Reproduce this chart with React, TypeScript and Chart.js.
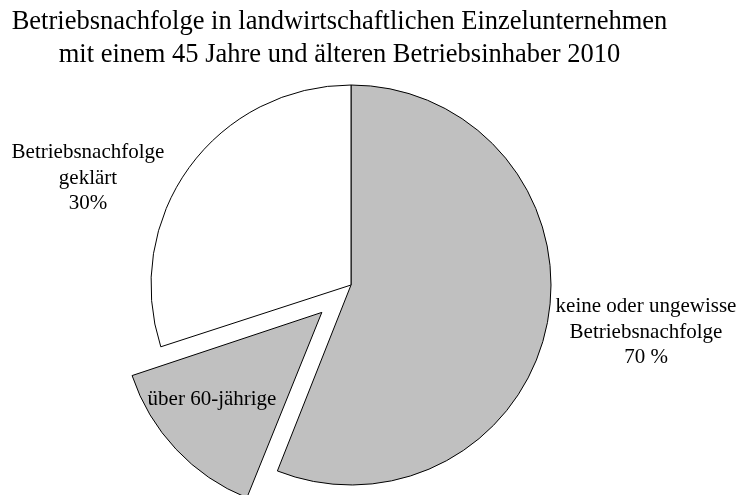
import { useEffect, useRef } from "react";
import { Chart, registerables } from "chart.js";

Chart.register(...registerables);

// ---- data ----
const categories = [
  "keine oder ungewisse Betriebsnachfolge",
  "über 60-jährige",
  "Betriebsnachfolge geklärt",
];
const shares = [56, 14, 30];
const sliceColors = ["#c0c0c0", "#c0c0c0", "#ffffff"];
const sliceOffsets = [0, 160, 0];
const titleLines = [
  "Betriebsnachfolge in landwirtschaftlichen Einzelunternehmen",
  "mit einem 45 Jahre und älteren Betriebsinhaber 2010",
];
const labelLines = [
  ["keine oder ungewisse", "Betriebsnachfolge", "70 %"],
  ["über 60-jährige"],
  ["Betriebsnachfolge", "geklärt", "30%"],
];

const FONT = "'Liberation Serif', 'Times New Roman', serif";

// keep exploded slice the same radius as the others
const radiusFix = {
  id: "radiusFix",
  afterDatasetUpdate(chart: any, args: any) {
    const meta = chart.getDatasetMeta(args.index);
    meta.data.forEach((arc: any) => {
      const off = ((arc.options && arc.options.offset) || 0) / 4;
      const fix = 1 - Math.sin(Math.min(Math.PI, arc.circumference || 0));
      arc.outerRadius = arc.outerRadius - off * fix;
    });
  },
};

const textPlugin = {
  id: "textPlugin",
  afterDraw(chart: any, _args: any, opts: any) {
    const ctx = chart.ctx;
    const meta = chart.getDatasetMeta(0);
    const arc0 = meta.data[0];
    if (!arc0) return;
    const cx = arc0.x;
    const cy = arc0.y;
    ctx.save();
    ctx.fillStyle = "#000";
    ctx.textAlign = "center";
    ctx.textBaseline = "alphabetic";
    // title
    ctx.font = `26.5px ${FONT}`;
    titleLines.forEach((t, i) => {
      ctx.fillText(t, opts.titleX, opts.titleY + i * opts.titleLH);
    });
    // slice labels
    ctx.font = `21px ${FONT}`;
    labelLines.forEach((lines, i) => {
      const p = opts.pos[i];
      lines.forEach((l, j) => {
        ctx.fillText(l, cx + p.dx, cy + p.dy + j * opts.labelLH);
      });
    });
    ctx.restore();
  },
};

export default function App() {
  const ref = useRef<HTMLCanvasElement | null>(null);
  useEffect(() => {
    if (!ref.current) return;
    const chart = new Chart(ref.current, {
      type: "pie",
      data: {
        labels: categories,
        datasets: [
          {
            data: shares,
            backgroundColor: sliceColors,
            borderColor: "#000",
            borderWidth: 1,
            offset: sliceOffsets,
            radius: 200,
          } as any,
        ],
      },
      options: {
        responsive: false,
        animation: false,
        layout: { padding: { left: 0, right: 37, top: 75, bottom: 0 } },
        plugins: {
          legend: { display: false },
          title: { display: false },
          tooltip: { enabled: false },
          textPlugin: {
            titleX: 339.5,
            titleY: 29,
            titleLH: 32.5,
            labelLH: 25.5,
            pos: [
              { dx: 295, dy: 27 },
              { dx: -139, dy: 120 },
              { dx: -263, dy: -127 },
            ],
          },
        } as any,
      },
      plugins: [radiusFix, textPlugin],
    });
    return () => chart.destroy();
  }, []);
  return (
    <div style={{ position: "absolute", left: 0, top: 0, width: 739, height: 495, background: "#fff" }}>
      <canvas ref={ref} width={739} height={495} style={{ width: 739, height: 495, display: "block" }} />
    </div>
  );
}
